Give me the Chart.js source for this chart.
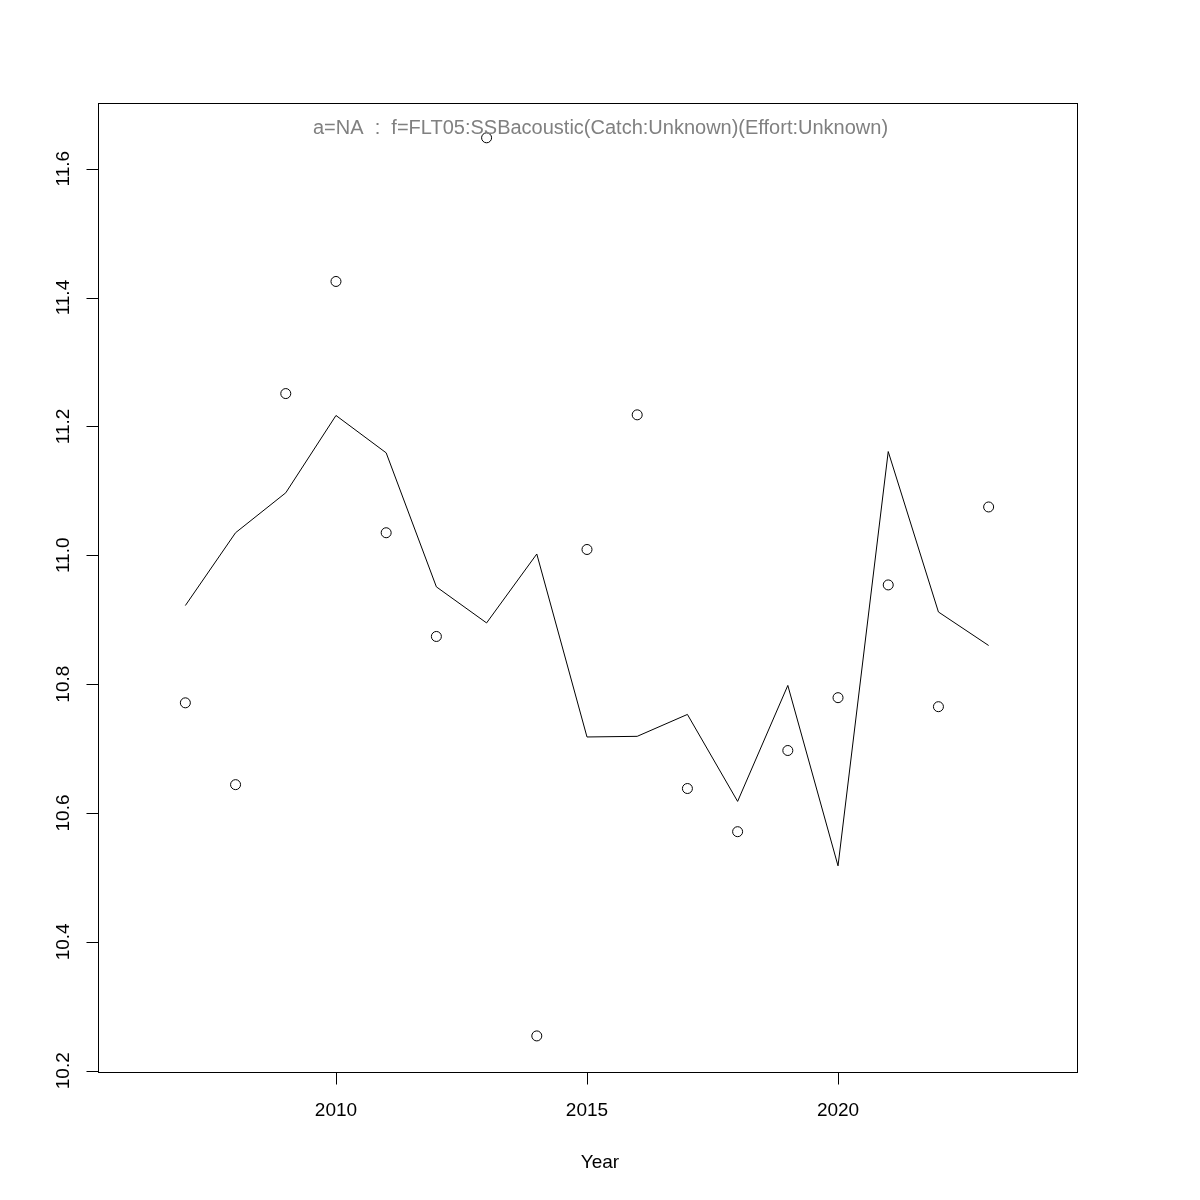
<!DOCTYPE html>
<html>
<head>
<meta charset="utf-8">
<script src="https://cdn.jsdelivr.net/npm/chart.js@4"></script>
<style>
  body { margin: 0; background: #fff; }
  #wrap { width: 1200px; height: 1200px; }
</style>
</head>
<body>
<div id="wrap"><canvas id="c" width="1200" height="1200"></canvas></div>
<script>
// jahre + werte
const years = [2007, 2008, 2009, 2010, 2011, 2012, 2013, 2014, 2015, 2016, 2017, 2018, 2019, 2020, 2021, 2022, 2023];
const observed = [10.771, 10.644, 11.251, 11.425, 11.035, 10.874, 11.648, 10.254, 11.009, 11.218, 10.638, 10.571, 10.697, 10.779, 10.954, 10.765, 11.075];
const fitted = [10.922, 11.035, 11.097, 11.217, 11.159, 10.951, 10.895, 11.002, 10.718, 10.719, 10.753, 10.618, 10.798, 10.518, 11.161, 10.912, 10.860];
const xTicks = [2010, 2015, 2020];
const yTicks = [10.2, 10.4, 10.6, 10.8, 11.0, 11.2, 11.4, 11.6];
const titleText = 'a=NA  :  f=FLT05:SSBacoustic(Catch:Unknown)(Effort:Unknown)';
const xLabel = 'Year';

const FONT = '19px "Liberation Sans", Arial, sans-serif';
const TITLE_FONT = '20px "Liberation Sans", Arial, sans-serif';

// R-style achsen, box und texte selbst zeichnen
const rAxes = {
    id: 'rAxes',
    afterDraw(chart) {
        const ctx = chart.ctx;
        const a = chart.chartArea;
        const xs = chart.scales.x, ys = chart.scales.y;
        ctx.save();
        ctx.strokeStyle = '#000';
        ctx.lineWidth = 1;
        ctx.strokeRect(Math.round(a.left) + 0.5, Math.round(a.top) + 0.5,
            Math.round(a.right - a.left), Math.round(a.bottom - a.top));

        ctx.font = FONT;
        ctx.fillStyle = '#000';

        // x achse
        ctx.beginPath();
        const xb = Math.round(a.bottom) + 0.5;
        ctx.moveTo(xs.getPixelForValue(xTicks[0]), xb);
        ctx.lineTo(xs.getPixelForValue(xTicks[xTicks.length - 1]), xb);
        xTicks.forEach(t => {
            const px = Math.round(xs.getPixelForValue(t)) + 0.5;
            ctx.moveTo(px, xb);
            ctx.lineTo(px, xb + 12);
        });
        ctx.stroke();
        ctx.textAlign = 'center';
        ctx.textBaseline = 'middle';
        xTicks.forEach(t => ctx.fillText(String(t), xs.getPixelForValue(t), 1111));

        // y achse
        ctx.beginPath();
        const yl = Math.round(a.left) + 0.5;
        ctx.moveTo(yl, ys.getPixelForValue(yTicks[0]));
        ctx.lineTo(yl, ys.getPixelForValue(yTicks[yTicks.length - 1]));
        yTicks.forEach(t => {
            const py = Math.round(ys.getPixelForValue(t)) + 0.5;
            ctx.moveTo(yl, py);
            ctx.lineTo(yl - 12, py);
        });
        ctx.stroke();
        yTicks.forEach(t => {
            ctx.save();
            ctx.translate(64, ys.getPixelForValue(t));
            ctx.rotate(-Math.PI / 2);
            ctx.fillText(t.toFixed(1), 0, 0);
            ctx.restore();
        });

        ctx.fillText(xLabel, 600, 1163);

        ctx.fillStyle = '#808080';
        ctx.font = TITLE_FONT;
        ctx.textAlign = 'left';
        ctx.fillText(titleText, 313, 128);
        ctx.restore();
    }
};

new Chart(document.getElementById('c').getContext('2d'), {
    type: 'scatter',
    data: {
        datasets: [{
            label: 'fit',
            data: years.map((y, i) => ({ x: y, y: fitted[i] })),
            showLine: true,
            borderColor: '#000',
            borderWidth: 1,
            pointRadius: 0,
            tension: 0,
            clip: false
        }, {
            label: 'obs',
            data: years.map((y, i) => ({ x: y, y: observed[i] })),
            showLine: false,
            pointStyle: 'circle',
            pointRadius: 5,
            borderColor: '#000',
            borderWidth: 1,
            backgroundColor: 'rgba(0,0,0,0)',
            clip: false
        }]
    },
    options: {
        responsive: false,
        animation: false,
        layout: { padding: { left: 98, right: 123, top: 103, bottom: 128 } },
        plugins: {
            legend: { display: false },
            tooltip: { enabled: false }
        },
        scales: {
            x: { type: 'linear', display: false, min: 2005.26, max: 2024.76 },
            y: { type: 'linear', display: false, min: 10.198, max: 11.702 }
        }
    },
    plugins: [rAxes]
});
</script>
</body>
</html>
